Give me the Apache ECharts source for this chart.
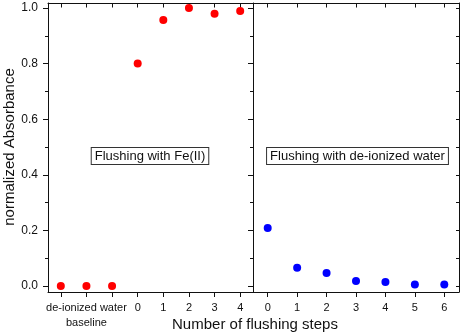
<!DOCTYPE html>
<html>
<head>
<meta charset="utf-8">
<script src="https://cdn.jsdelivr.net/npm/echarts@6/dist/echarts.min.js"></script>
<style>
  html, body { margin: 0; padding: 0; background: #fff; }
  #chart { width: 461px; height: 336px; }
</style>
</head>
<body>
<div id="chart"></div>
<script>
// left panel: de-ionized water baseline (3 points) + flushing with Fe(II), steps 0..4
const leftTickLabels = ['', 'de-ionized water\nbaseline', '', '0', '1', '2', '3', '4']
const leftValues = [0, 0, 0, 0.80, 0.957, 1.0, 0.979, 0.989]

// right panel: flushing with de-ionized water, steps 0..6
const rightTickLabels = ['0', '1', '2', '3', '4', '5', '6']
const rightValues = [0.209, 0.066, 0.047, 0.018, 0.014, 0.005, 0.005]

const yTickMin = 0
const yTickMax = 1
const yTickStep = 0.2

const FONT = 'Arial, "Liberation Sans", sans-serif'
const INK = '#111'

const chart = echarts.init(document.getElementById('chart'))

// frame axes (lines only)
const frameY = {
  type: 'value', min: -0.0216, max: 1.018,
  axisLine: { show: true, onZero: false, lineStyle: { color: INK, width: 1 } },
  axisTick: { show: false }, axisLabel: { show: false }, splitLine: { show: false }
}
// tick axes (no lines)
const tickY = {
  type: 'value', min: yTickMin, max: yTickMax, interval: yTickStep,
  axisLine: { show: false },
  axisTick: { show: true, length: 5, lineStyle: { color: INK } },
  minorTick: { show: true, splitNumber: 2, length: 3, lineStyle: { color: INK } },
  axisLabel: { show: false },
  splitLine: { show: false }
}

const catAxis = (grid, labels, pos) => ({
  type: 'category', gridIndex: grid, position: pos,
  data: labels.map((_, i) => String(i)),
  boundaryGap: true,
  axisLine: { show: true, onZero: false, lineStyle: { color: INK, width: 1 } },
  axisTick: { show: true, alignWithLabel: true, inside: pos === 'top', length: pos === 'top' ? 4.5 : 5, lineStyle: { color: INK } },
  axisLabel: pos === 'top' ? { show: false } : {
    show: true, interval: 0, margin: 8,
    fontFamily: FONT, fontSize: 11, lineHeight: 15, color: INK,
    formatter: (v, i) => labels[i]
  },
  splitLine: { show: false }
})

chart.setOption({
  animation: false,
  grid: [
    { left: 48, top: 3, width: 205, height: 289 },
    { left: 253, top: 3, width: 206, height: 289 },
    { left: 48, top: 8, width: 205, height: 278 },
    { left: 253, top: 8, width: 206, height: 278 }
  ],
  xAxis: [
    catAxis(0, leftTickLabels, 'bottom'),
    catAxis(0, leftTickLabels, 'top'),
    catAxis(1, rightTickLabels, 'bottom'),
    catAxis(1, rightTickLabels, 'top'),
    { type: 'value', gridIndex: 2, show: false },
    { type: 'value', gridIndex: 3, show: false }
  ],
  yAxis: [
    Object.assign({}, frameY, { gridIndex: 0, position: 'left' }),
    Object.assign({}, frameY, { gridIndex: 1, position: 'left' }),
    Object.assign({}, frameY, { gridIndex: 1, position: 'right' }),
    Object.assign({}, tickY, {
      gridIndex: 2, position: 'left',
      axisLabel: {
        show: true, margin: 10, fontFamily: FONT, fontSize: 12, color: INK,
        formatter: v => v.toFixed(1)
      },
      name: 'normalized Absorbance', nameLocation: 'middle', nameGap: 25,
      nameTextStyle: { fontFamily: FONT, fontSize: 15, color: INK }
    }),
    Object.assign({}, tickY, { gridIndex: 3, position: 'left' }),
    Object.assign({}, tickY, {
      gridIndex: 3, position: 'right',
      axisTick: { show: true, inside: true, length: 3, lineStyle: { color: INK } },
      minorTick: { show: true, splitNumber: 2, length: 3, lineStyle: { color: INK } }
    })
  ],
  series: [
    {
      type: 'scatter', xAxisIndex: 0, yAxisIndex: 0,
      symbolSize: 8, itemStyle: { color: '#ff0000', opacity: 1 },
      data: leftValues.map((v, i) => [i, v])
    },
    {
      type: 'scatter', xAxisIndex: 2, yAxisIndex: 1,
      symbolSize: 8, itemStyle: { color: '#0000ff', opacity: 1 },
      data: rightValues.map((v, i) => [i, v])
    }
  ],
  graphic: [
    {
      type: 'text', x: 255, y: 317,
      style: { text: 'Number of flushing steps', font: '15px ' + FONT, fill: INK, align: 'center' }
    },
    {
      type: 'text', x: 150, y: 156,
      style: {
        text: 'Flushing with Fe(II)', font: '13px ' + FONT, fill: INK,
        align: 'center', verticalAlign: 'middle',
        backgroundColor: '#fff', borderColor: '#333', borderWidth: 1, padding: [2, 3, 1, 3]
      }
    },
    {
      type: 'text', x: 357.5, y: 156,
      style: {
        text: 'Flushing with de-ionized water', font: '13px ' + FONT, fill: INK,
        align: 'center', verticalAlign: 'middle',
        backgroundColor: '#fff', borderColor: '#333', borderWidth: 1, padding: [2, 3, 1, 3]
      }
    }
  ]
})
</script>
</body>
</html>
